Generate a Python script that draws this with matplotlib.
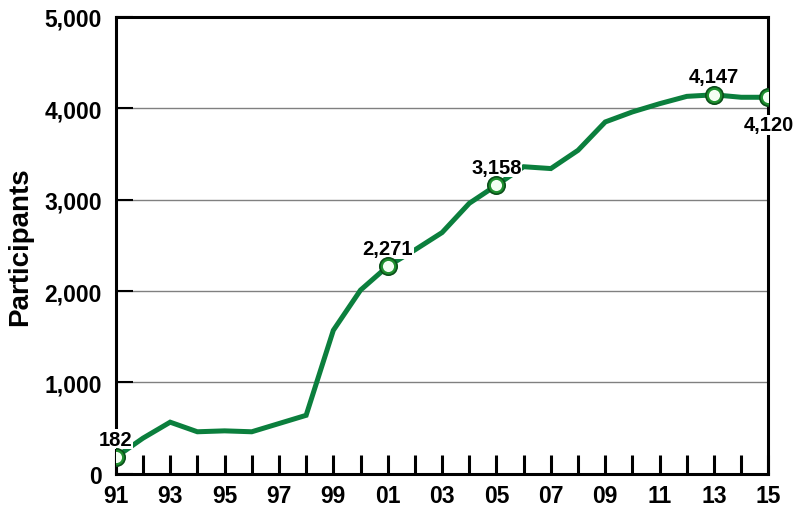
import matplotlib.pyplot as plt

plt.rcParams['font.family'] = ['Liberation Sans', 'DejaVu Sans']
plt.rcParams['font.weight'] = 'bold'

# data
years = list(range(1991, 2016))
participants = [182, 390, 565, 460, 470, 460, 550, 640, 1570, 2010,
                2271, 2450, 2640, 2960, 3158, 3360, 3340, 3540, 3850, 3960,
                4050, 4130, 4147, 4120, 4120]

# labelled points: year, text, above/below
label_years = [1991, 2001, 2005, 2013, 2015]
label_texts = ['182', '2,271', '3,158', '4,147', '4,120']
label_below = [False, False, False, False, True]

green = '#0b7f3d'

fig = plt.figure(figsize=(7.93, 5.10), dpi=100)
ax = fig.add_axes([0.146, 0.069, 0.823, 0.896])

ax.plot(years, participants, color=green, lw=3.6, solid_joinstyle='miter', zorder=3)

for yr, txt, below in zip(label_years, label_texts, label_below):
    val = participants[years.index(yr)]
    # shaded ball marker: green ball with a white highlight
    ax.plot(yr, val, 'o', ms=12.5, mfc='#1f8f2f', mec='#0a4f1a', mew=1.2, zorder=5)
    ax.plot(yr, val, 'o', ms=8, mfc='#f4fff4', mec='none', zorder=6)
    off = -13 if below else 6
    ax.annotate(txt, (yr, val), xytext=(0, off), textcoords='offset points',
                ha='center', va='top' if below else 'bottom',
                fontsize=14.5, fontweight='bold', zorder=4,
                bbox=dict(fc='white', ec='none', pad=0.5))

ax.set_xlim(1991, 2015)
ax.set_ylim(0, 5000)
ax.set_xticks(years)
ax.set_xticklabels([f'{y % 100:02d}' if (y - 1991) % 2 == 0 else '' for y in years])
ax.set_yticks(range(0, 5001, 1000))
ax.set_yticklabels([f'{v:,}' for v in range(0, 5001, 1000)])

ax.tick_params(axis='x', direction='in', length=14, width=2.2, pad=7, labelsize=16.5)
ax.tick_params(axis='y', direction='in', length=12, width=1.5, pad=10, labelsize=16.5)
ax.grid(axis='y', color='#808080', lw=1, zorder=1)

for s in ax.spines.values():
    s.set_linewidth(2.2)

ax.set_ylabel('Participants', fontsize=20, fontweight='bold', labelpad=8)

fig.savefig('out.png', dpi=100)
